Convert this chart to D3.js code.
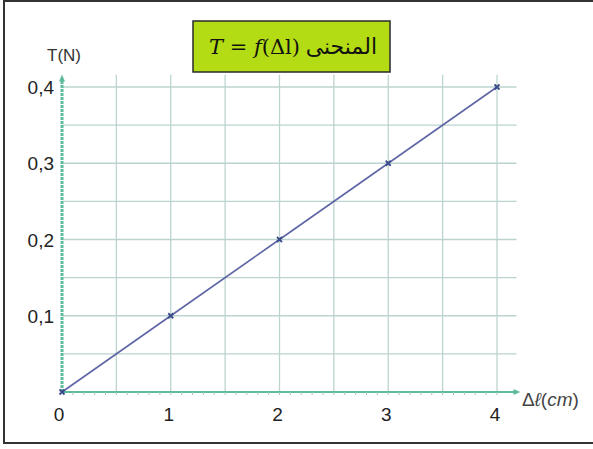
<!DOCTYPE html>
<html><head><meta charset="utf-8">
<script src="https://cdn.jsdelivr.net/npm/d3@7"></script>
<style>body{margin:0;background:#fff}svg{display:block}</style>
</head><body>
<svg id="c" width="593" height="449"></svg>
<script>
const xValues = [0, 1, 2, 3, 4];
const yValues = [0, 0.1, 0.2, 0.3, 0.4];
const xTickLabels = ["0", "1", "2", "3", "4"];
const yTickValues = [0.1, 0.2, 0.3, 0.4];
const yTickLabels = ["0,1", "0,2", "0,3", "0,4"];
const titleArabic = "المنحنى";
const yAxisLabel = "T(N)";

const svg = d3.select("#c");
const x = d3.scaleLinear().domain([0, 4]).range([62, 497]);
const y = d3.scaleLinear().domain([0, 0.4]).range([392, 87]);
const sans = "Arial, Liberation Sans, sans-serif";

// frame
svg.append("rect").attr("x", 4).attr("y", 1).attr("width", 600).attr("height", 442)
  .attr("fill", "#fff").attr("stroke", "#333").attr("stroke-width", 2);

// grid
const gridColor = "#bcd4cf";
const g = svg.append("g");
const xGrid = d3.range(0.5, 4.01, 0.5);
g.selectAll(".vg").data(xGrid).join("line")
  .attr("x1", d => x(d)).attr("x2", d => x(d))
  .attr("y1", y(0)).attr("y2", y(0.416))
  .attr("stroke", gridColor).attr("stroke-width", 1.3);
const yGrid = d3.range(0.05, 0.401, 0.05);
g.selectAll(".hg").data(yGrid).join("line")
  .attr("x1", x(0)).attr("x2", x(4.18))
  .attr("y1", d => y(d)).attr("y2", d => y(d))
  .attr("stroke", gridColor).attr("stroke-width", 1.3);

// axes
const axisColor = "#5ebc9c";
svg.append("line").attr("x1", x(0)).attr("x2", x(0)).attr("y1", y(0)).attr("y2", y(0.41))
  .attr("stroke", axisColor).attr("stroke-width", 3).attr("stroke-dasharray", "3,1");
svg.append("path").attr("d", `M${x(0)-3},${y(0.41)+2} L${x(0)},${y(0.41)-5} L${x(0)+3},${y(0.41)+2} Z`).attr("fill", axisColor);
svg.append("line").attr("x1", x(0)).attr("x2", x(4.17)).attr("y1", y(0)).attr("y2", y(0))
  .attr("stroke", axisColor).attr("stroke-width", 2);
svg.append("path").attr("d", `M${x(4.17)-2},${y(0)-3} L${x(4.17)+5},${y(0)} L${x(4.17)-2},${y(0)+3} Z`).attr("fill", axisColor);
svg.selectAll(".mt").data(d3.range(0.1, 4.01, 0.1)).join("line")
  .attr("x1", d => x(d)).attr("x2", d => x(d)).attr("y1", y(0)).attr("y2", y(0) + 3)
  .attr("stroke", "#9cc9bb").attr("stroke-width", 1);

// tick labels
svg.selectAll(".xl").data(xValues).join("text")
  .attr("x", (d, i) => x(d) + (i === 0 ? -3 : -2)).attr("y", 421)
  .attr("text-anchor", "middle").attr("font-family", sans)
  .attr("font-size", 19).attr("fill", "#222").text((d, i) => xTickLabels[i]);
svg.selectAll(".yl").data(yTickValues).join("text")
  .attr("x", 54).attr("y", d => y(d) + 7)
  .attr("text-anchor", "end").attr("font-family", sans)
  .attr("font-size", 19).attr("fill", "#222").text((d, i) => yTickLabels[i]);

svg.append("text").attr("x", 47).attr("y", 61).attr("font-family", sans)
  .attr("font-size", 17).attr("fill", "#333").text(yAxisLabel);

const xl = svg.append("text").attr("x", 522).attr("y", 406)
  .attr("font-family", sans).attr("font-size", 19).attr("fill", "#444");
xl.append("tspan").text("Δ");
xl.append("tspan").attr("font-style", "italic").text("ℓ");
xl.append("tspan").text("(");
xl.append("tspan").attr("font-style", "italic").text("cm");
xl.append("tspan").text(")");

// data line
const line = d3.line().x(d => x(d[0])).y(d => y(d[1]));
const pts = xValues.map((v, i) => [v, yValues[i]]);
svg.append("path").datum(pts).attr("d", line).attr("fill", "none")
  .attr("stroke", "#5e66a6").attr("stroke-width", 1.6);
svg.selectAll(".mk").data(pts).join("path")
  .attr("d", d => `M${x(d[0])-2.5},${y(d[1])-2.5}L${x(d[0])+2.5},${y(d[1])+2.5}M${x(d[0])-2.5},${y(d[1])+2.5}L${x(d[0])+2.5},${y(d[1])-2.5}`)
  .attr("stroke", "#3a4a8a").attr("stroke-width", 1.8);

// title box
svg.append("rect").attr("x", 193).attr("y", 21).attr("width", 197).attr("height", 51)
  .attr("fill", "#b4dc14").attr("stroke", "#2a2a2a").attr("stroke-width", 1.5);
const tm = svg.append("text").attr("x", 209).attr("y", 54)
  .attr("font-family", "DejaVu Serif, Liberation Serif, serif")
  .attr("font-size", 21).attr("fill", "#111");
tm.append("tspan").attr("font-style", "italic").text("T");
tm.append("tspan").text(" = ");
tm.append("tspan").attr("font-style", "italic").text("f");
tm.append("tspan").text("(Δl)");
svg.append("text").attr("x", 377).attr("y", 54).attr("text-anchor", "end")
  .attr("font-family", "Noto Sans, DejaVu Sans, sans-serif")
  .attr("font-size", 22).attr("fill", "#111").text(titleArabic);
</script>
</body></html>
